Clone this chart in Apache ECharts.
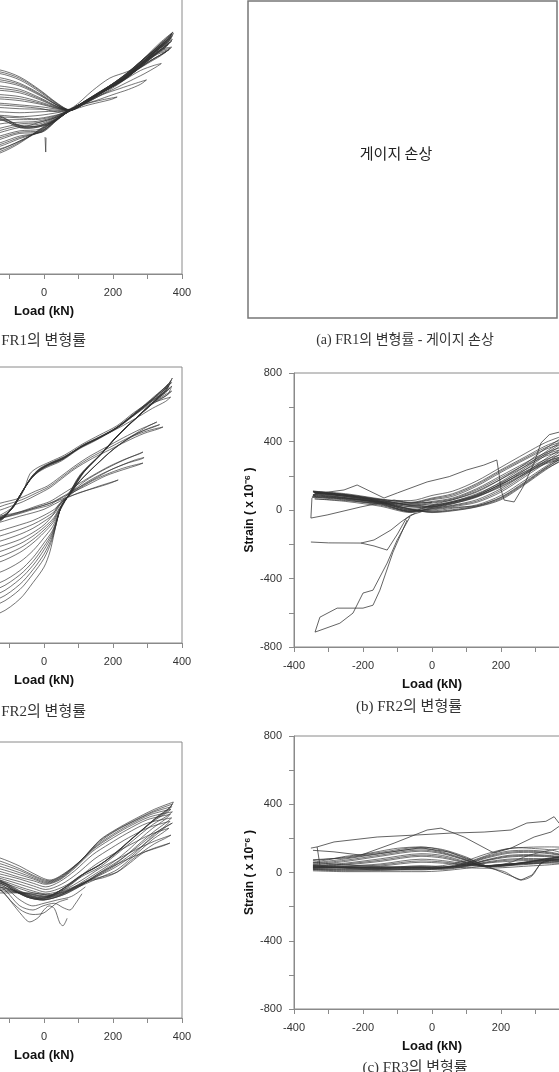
<!DOCTYPE html>
<html>
<head>
<meta charset="utf-8">
<script src="https://cdn.jsdelivr.net/npm/echarts@6/dist/echarts.min.js"></script>
<style>
html, body { margin: 0; padding: 0; background: #fff; }
#main { width: 559px; height: 1072px; }
</style>
</head>
<body>
<div id="main"></div>
<script>
// tick labels
const loadTicks = [-400, -200, 0, 200, 400];
const strainTicks = [-800, -400, 0, 400, 800];

// left column, top panel : [load kN, strain x1e-6] per cycle
const leftTopLoops = [
  [[-360,430],[-250,415],[-128,383],[-70,342],[-12,267],[38,191],[75,152],[120,205],[162,258],[229,340],[287,445],[336,540],[374,603],[362,575],[330,520],[290,450],[240,365],[190,290],[130,215],[85,160],[55,125],[-3,52],[-70,-41],[-128,-99],[-250,-170],[-360,-220]],
  [[-360,415],[-250,400],[-128,372],[-70,334],[-12,262],[38,188],[75,151],[122,203],[164,256],[230,338],[288,442],[337,535],[372,598],[361,568],[328,512],[288,446],[238,360],[188,288],[128,212],[83,158],[52,120],[-4,46],[-70,-35],[-128,-90],[-250,-160],[-360,-210]],
  [[-360,405],[-250,390],[-128,362],[-70,325],[-12,255],[38,185],[75,150],[120,200],[162,252],[229,335],[287,438],[336,530],[370,590],[360,560],[325,505],[285,440],[235,355],[185,285],[125,210],[80,155],[50,115],[-5,40],[-70,-28],[-128,-80],[-250,-150],[-360,-200]],
  [[-360,380],[-250,365],[-128,338],[-70,305],[-12,245],[38,180],[75,150],[120,198],[162,250],[229,330],[287,430],[336,522],[368,575],[355,545],[320,492],[280,428],[230,345],[180,278],[120,205],[78,152],[45,108],[-5,30],[-70,-15],[-128,-60],[-250,-130],[-360,-180]],
  [[-360,362],[-250,350],[-128,326],[-70,298],[-12,240],[38,179],[75,150],[121,199],[163,251],[230,331],[288,431],[337,521],[369,568],[357,540],[321,486],[281,423],[231,341],[181,275],[121,203],[77,151],[43,104],[-6,26],[-70,-8],[-128,-50],[-250,-120],[-360,-170]],
  [[-360,350],[-250,338],[-128,315],[-70,290],[-12,235],[38,178],[75,150],[122,198],[165,252],[232,332],[290,432],[338,520],[372,560],[360,532],[322,480],[282,418],[232,338],[182,272],[122,202],[78,152],[42,100],[-8,22],[-70,0],[-128,-40],[-250,-110],[-360,-160]],
  [[-360,320],[-250,310],[-128,290],[-70,270],[-12,222],[38,172],[75,150],[122,196],[165,250],[232,330],[290,428],[338,515],[365,545],[352,520],[318,470],[278,410],[228,332],[178,268],[120,200],[76,150],[40,95],[-10,20],[-70,15],[-128,-20],[-250,-90],[-360,-140]],
  [[-360,305],[-250,296],[-128,276],[-70,260],[-12,216],[38,170],[75,150],[121,195],[163,248],[231,328],[289,425],[336,510],[362,538],[350,512],[315,464],[275,405],[226,329],[176,265],[119,199],[75,150],[39,98],[-10,30],[-70,22],[-128,-10],[-250,-80],[-360,-130]],
  [[-360,290],[-250,282],[-128,265],[-70,250],[-12,210],[38,168],[75,150],[120,194],[162,246],[230,326],[288,422],[335,505],[360,530],[348,505],[312,458],[272,400],[225,326],[175,262],[118,198],[75,150],[38,100],[-10,40],[-70,30],[-128,0],[-250,-70],[-360,-120]],
  [[-360,262],[-250,255],[-128,240],[-70,228],[-12,198],[38,165],[75,150],[125,200],[168,252],[235,330],[290,420],[336,500],[370,515],[355,490],[315,445],[275,390],[225,318],[172,258],[116,196],[74,150],[36,105],[-15,60],[-70,50],[-128,20],[-250,-50],[-360,-100]],
  [[-360,248],[-250,241],[-128,226],[-70,216],[-12,191],[38,162],[75,150],[125,199],[166,250],[231,326],[287,415],[333,490],[366,508],[350,484],[310,438],[270,385],[221,315],[170,255],[115,195],[73,150],[35,108],[-16,68],[-70,60],[-128,32],[-250,-35],[-360,-85]],
  [[-360,235],[-250,228],[-128,215],[-70,205],[-12,185],[38,160],[75,150],[125,198],[165,248],[228,322],[285,410],[330,480],[362,500],[345,478],[305,432],[265,380],[218,312],[168,252],[114,194],[72,150],[35,110],[-18,78],[-70,70],[-128,45],[-250,-20],[-360,-70]],
  [[-360,205],[-250,200],[-128,190],[-70,180],[-12,170],[38,156],[75,150],[122,195],[160,244],[225,318],[280,400],[325,470],[355,490],[338,465],[300,420],[258,368],[212,305],[165,250],[112,192],[70,148],[32,112],[-20,85],[-70,80],[-128,70],[-250,10],[-360,-40]],
  [[-360,180],[-250,175],[-128,165],[-70,158],[-12,155],[38,150],[75,148],[120,190],[165,245],[225,315],[280,380],[320,410],[340,420],[325,400],[290,360],[250,320],[200,270],[150,225],[105,185],[68,145],[30,115],[-25,95],[-70,95],[-128,90],[-250,40],[-360,0]],
  [[-360,150],[-250,148],[-128,140],[-70,135],[-12,140],[38,145],[75,150],[120,190],[170,240],[220,275],[265,305],[297,325],[280,300],[245,270],[200,240],[150,205],[100,175],[65,140],[28,118],[-30,100],[-70,105],[-128,110],[-250,70],[-360,30]],
  [[-360,125],[-250,122],[-128,120],[-70,112],[-12,120],[38,135],[75,150],[120,185],[170,210],[212,226],[195,212],[160,195],[120,175],[80,148],[40,112],[-20,75],[-60,55],[-128,100],[-250,80],[-360,50]],
  [[-360,160],[-250,140],[-128,110],[-80,70],[-49,52],[-10,60],[17,75],[50,115],[75,150],[130,208],[175,262],[240,345],[295,445],[340,525],[372,582],[365,560],[335,508],[298,448],[250,370],[200,298],[140,222],[95,170],[60,128],[25,85],[-20,50],[-60,45],[-128,100],[-250,130],[-360,150]],
  [[-360,140],[-250,125],[-128,95],[-80,60],[-49,45],[-10,55],[17,70],[50,112],[75,148],[130,205],[178,262],[245,350],[298,450],[342,530],[375,595],[368,570],[338,515],[300,455],[252,378],[202,305],[142,228],[98,175],[62,130],[28,92],[-15,58],[-60,50],[-128,115],[-250,135],[-360,155]],
  [[-360,200],[-128,180],[-12,160],[40,140],[85,168],[140,262],[191,336],[240,372],[290,420],[340,500],[370,550],[350,520],[300,440],[250,350],[200,280],[140,210],[80,150],[40,100],[-10,30],[-70,-30],[-128,-75],[-360,-200]]
];
const leftTopSpike = [[3,-6],[5,-93],[6,-10]];

// left column, middle panel
const leftMidLoops = [
  [[-360,-720],[-250,-690],[-128,-626],[-70,-545],[-32,-450],[0,-360],[17,-272],[30,-160],[41,-58],[55,0],[67,41],[104,174],[162,290],[212,400],[260,490],[310,585],[350,660],[372,736],[360,700],[320,630],[270,545],[212,452],[160,395],[113,348],[60,280],[17,243],[-10,215],[-32,174],[-60,90],[-90,-17],[-128,-75],[-250,-160],[-360,-230]],
  [[-360,-680],[-250,-640],[-128,-570],[-70,-490],[-32,-400],[0,-310],[20,-220],[33,-130],[44,-40],[58,15],[72,60],[108,180],[165,295],[215,405],[262,495],[312,590],[352,655],[368,720],[355,690],[318,622],[268,540],[210,448],[158,390],[110,343],[58,275],[15,238],[-12,208],[-35,165],[-62,80],[-92,-20],[-128,-80],[-250,-165],[-360,-235]],
  [[-360,-620],[-250,-580],[-128,-510],[-70,-430],[-32,-350],[0,-260],[22,-180],[36,-100],[48,-20],[62,30],[78,75],[112,185],[168,300],[218,410],[265,500],[315,590],[360,700],[350,670],[315,612],[265,532],[208,445],[155,385],[108,338],[55,270],[12,232],[-15,200],[-38,155],[-65,70],[-95,-25],[-128,-85],[-250,-170],[-360,-240]],
  [[-360,-590],[-250,-550],[-128,-480],[-70,-405],[-32,-328],[0,-240],[23,-165],[37,-90],[49,-15],[63,32],[80,80],[113,188],[169,302],[219,412],[266,502],[316,592],[362,690],[351,660],[313,606],[263,528],[206,442],[153,382],[106,335],[53,266],[11,228],[-16,196],[-39,150],[-66,66],[-96,-27],[-128,-87],[-250,-172],[-360,-242]],
  [[-360,-560],[-250,-520],[-128,-450],[-70,-380],[-32,-305],[0,-220],[24,-150],[38,-80],[50,-10],[64,35],[82,85],[115,190],[170,305],[220,415],[268,505],[318,595],[365,680],[352,650],[312,600],[262,525],[205,440],[152,380],[105,332],[52,262],[10,225],[-18,192],[-40,148],[-68,62],[-98,-30],[-128,-90],[-250,-175],[-360,-245]],
  [[-360,-500],[-250,-460],[-128,-390],[-70,-330],[-32,-265],[0,-190],[25,-125],[40,-60],[52,0],[66,40],[85,95],[118,195],[172,310],[222,420],[270,510],[320,600],[370,660],[355,635],[310,588],[258,515],[200,432],[148,372],[102,325],[50,255],[8,218],[-20,185],[-42,140],[-70,55],[-100,-35],[-128,-95],[-250,-180],[-360,-250]],
  [[-360,-440],[-250,-400],[-128,-330],[-70,-275],[-32,-220],[0,-160],[27,-100],[42,-40],[55,10],[70,50],[100,130],[150,230],[200,320],[250,390],[300,430],[345,452],[330,440],[290,415],[240,370],[190,320],[140,270],[90,210],[50,150],[17,100],[-20,60],[-60,20],[-100,-10],[-128,-30],[-250,-100],[-360,-170]],
  [[-360,-410],[-250,-370],[-128,-300],[-70,-250],[-32,-200],[0,-145],[27,-88],[43,-30],[56,15],[72,55],[102,135],[152,235],[202,325],[252,395],[300,442],[335,466],[322,455],[285,428],[235,380],[185,328],[135,275],[88,215],[48,155],[14,105],[-22,70],[-65,30],[-114,0],[-128,-10],[-250,-80],[-360,-150]],
  [[-360,-380],[-250,-340],[-128,-270],[-70,-225],[-32,-180],[0,-130],[28,-75],[44,-20],[58,20],[75,60],[105,140],[155,240],[205,330],[255,400],[300,455],[327,481],[315,470],[280,440],[230,390],[180,335],[130,280],[85,220],[45,160],[10,110],[-25,80],[-70,40],[-128,10],[-250,-60],[-360,-130]],
  [[-360,-320],[-250,-280],[-128,-210],[-70,-170],[-32,-135],[0,-95],[30,-50],[46,0],[62,35],[80,75],[120,140],[170,200],[220,250],[260,285],[287,307],[275,295],[240,270],[190,225],[140,170],[90,110],[50,60],[17,20],[-20,-5],[-70,-40],[-128,-75],[-250,-140],[-360,-200]],
  [[-360,-290],[-250,-250],[-128,-180],[-70,-142],[-32,-112],[0,-78],[30,-38],[47,5],[63,38],[85,78],[130,140],[180,192],[230,235],[265,262],[290,275],[280,265],[245,245],[195,205],[145,150],[95,95],[55,50],[17,10],[-25,-15],[-75,-48],[-128,-77],[-250,-135],[-360,-195]],
  [[-360,-260],[-250,-220],[-128,-150],[-70,-115],[-32,-90],[0,-60],[30,-25],[48,10],[65,40],[90,80],[140,140],[190,185],[240,220],[287,243],[270,230],[230,205],[180,170],[130,120],[80,70],[40,30],[17,0],[-30,-25],[-80,-55],[-128,-78],[-250,-130],[-360,-190]],
  [[-360,-200],[-250,-160],[-128,-100],[-70,-65],[-32,-45],[0,-25],[30,5],[60,35],[100,70],[150,100],[190,125],[215,145],[200,135],[160,110],[110,75],[60,40],[17,10],[-30,-20],[-80,-45],[-128,-65],[-250,-110],[-360,-170]],
  [[-360,-260],[-250,-180],[-128,-60],[-90,-10],[-60,80],[-41,180],[-20,215],[17,250],[60,290],[113,355],[160,405],[212,460],[260,535],[307,600],[345,670],[370,710],[355,680],[315,615],[262,525],[210,445],[160,392],[113,342],[60,282],[17,240],[-30,170],[-60,85],[-90,-15],[-128,-70],[-250,-150],[-360,-220]],
  [[-360,-350],[-250,-310],[-128,-240],[-70,-200],[-32,-160],[0,-115],[25,-60],[40,-5],[55,30],[72,70],[108,175],[165,292],[214,402],[262,492],[312,582],[358,640],[370,690],[358,665],[318,610],[266,528],[212,446],[158,388],[110,340],[56,272],[14,236],[-14,205],[-36,160],[-64,74],[-94,-22],[-128,-82],[-250,-168],[-360,-238]],
  [[-360,-650],[-250,-610],[-128,-540],[-70,-460],[-32,-375],[0,-285],[21,-200],[35,-115],[46,-30],[60,22],[75,68],[110,182],[166,298],[216,408],[264,498],[314,588],[367,625],[352,600],[314,560],[264,500],[210,440],[156,386],[108,340],[56,268],[13,234],[-16,202],[-37,158],[-66,66],[-96,-28],[-128,-88],[-250,-172],[-360,-242]]
];

// left column, bottom panel
const leftBotLoops = [
  [[-360,240],[-250,200],[-128,128],[-70,80],[-32,39],[17,0],[60,40],[110,120],[162,232],[210,295],[258,348],[320,410],[375,452],[365,420],[330,370],[290,300],[250,230],[212,160],[170,100],[120,40],[80,-20],[40,-70],[-3,-116],[-49,-99],[-128,-17],[-250,60],[-360,120]],
  [[-360,220],[-250,180],[-128,110],[-70,65],[-32,28],[15,-5],[55,30],[105,110],[158,222],[205,285],[255,338],[318,400],[372,440],[360,410],[325,360],[285,292],[245,222],[205,150],[165,92],[115,35],[75,-25],[35,-75],[-5,-110],[-50,-92],[-128,-10],[-250,65],[-360,125]],
  [[-360,200],[-250,165],[-128,95],[-70,55],[-30,20],[12,-10],[52,22],[100,100],[155,210],[200,275],[250,330],[315,392],[370,425],[356,398],[320,350],[280,284],[240,215],[200,145],[160,85],[110,30],[70,-30],[30,-80],[-8,-105],[-52,-85],[-128,-5],[-250,70],[-360,130]],
  [[-360,180],[-250,145],[-128,80],[-70,42],[-30,12],[10,-15],[50,15],[95,90],[150,195],[198,262],[246,318],[310,380],[368,410],[352,385],[315,338],[275,272],[235,205],[195,138],[155,78],[105,25],[65,-35],[25,-85],[-10,-100],[-55,-78],[-128,0],[-250,75],[-360,135]],
  [[-360,160],[-250,125],[-128,65],[-70,30],[-30,5],[8,-20],[48,8],[92,80],[145,182],[195,250],[242,305],[305,365],[372,395],[356,370],[318,325],[278,262],[238,195],[198,130],[158,70],[108,18],[68,-42],[28,-90],[-12,-108],[-58,-88],[-128,-5],[-250,70],[-360,130]],
  [[-360,140],[-250,110],[-128,50],[-70,15],[-30,-5],[5,-25],[45,0],[90,70],[140,165],[190,232],[240,290],[300,350],[366,380],[350,350],[315,300],[280,240],[245,175],[205,110],[160,50],[120,0],[80,-50],[40,-95],[0,-115],[-49,-99],[-128,-17],[-250,60],[-360,120]],
  [[-360,120],[-250,95],[-128,35],[-70,5],[-30,-20],[5,-40],[45,-10],[90,55],[140,145],[190,210],[240,270],[300,330],[370,360],[352,330],[318,280],[282,220],[248,160],[212,100],[170,45],[133,0],[95,-45],[50,-90],[0,-112],[-45,-95],[-128,-30],[-250,50],[-360,110]],
  [[-360,110],[-250,80],[-128,20],[-70,-10],[-30,-35],[5,-55],[50,-25],[95,35],[145,120],[195,185],[245,245],[305,305],[365,340],[350,310],[320,265],[287,200],[255,140],[212,80],[175,40],[133,0],[95,-40],[55,-80],[5,-105],[-45,-90],[-128,-40],[-250,40],[-360,100]],
  [[-360,100],[-250,70],[-128,10],[-70,-25],[-30,-50],[5,-70],[55,-40],[100,15],[150,90],[200,150],[255,210],[310,265],[362,300],[345,275],[315,235],[287,185],[255,130],[212,60],[175,25],[140,-5],[100,-40],[60,-75],[10,-100],[-40,-85],[-128,-50],[-250,30],[-360,90]],
  [[-360,90],[-250,60],[-128,0],[-70,-40],[-30,-65],[5,-80],[60,-55],[110,0],[160,65],[212,120],[265,175],[320,225],[368,260],[350,240],[320,210],[287,165],[250,110],[212,46],[175,15],[133,-5],[95,-40],[60,-70],[15,-95],[-40,-80],[-128,-60],[-250,20],[-360,80]],
  [[-360,80],[-250,50],[-128,-10],[-70,-50],[-30,-75],[10,-85],[65,-65],[115,-15],[165,45],[215,95],[270,145],[320,185],[365,214],[348,200],[318,180],[287,157],[250,100],[212,46],[170,20],[133,0],[95,-35],[60,-65],[20,-90],[-35,-75],[-128,-75],[-250,10],[-360,70]],
  [[-360,50],[-250,20],[-128,-17],[-80,-70],[-49,-99],[-3,-116],[35,-100],[67,-77],[110,-30],[160,40],[215,110],[270,190],[320,270],[372,330],[355,310],[320,255],[280,190],[240,130],[200,75],[160,30],[120,-10],[80,-45],[40,-75],[0,-95],[-40,-80],[-128,-40],[-250,30],[-360,60]]
];
const leftBotDips = [
  [[-360,-20],[-250,-40],[-128,-60],[-90,-140],[-70,-190],[-41,-243],[-15,-215],[-3,-180],[15,-150],[30,-165],[46,-250],[55,-265],[62,-245],[67,-222]],
  [[-360,0],[-250,-20],[-128,-40],[-70,-150],[-32,-174],[-3,-150],[30,-135],[55,-160],[75,-174],[90,-140],[110,-80]],
  [[-360,10],[-250,-5],[-128,-25],[-70,-115],[-32,-150],[0,-135],[40,-115],[80,-95],[120,-40]],
  [[-128,-50],[-70,-170],[-32,-200],[-3,-193],[20,-160],[40,-130],[70,-110]]
];

// right column, (b) FR2
const fr2Loops = [
  [[-345,105],[-250,80],[-150,45],[-61,5],[0,-15],[60,-5],[130,18],[200,60],[270,150],[330,235],[390,310],[330,275],[270,215],[200,140],[130,80],[60,40],[0,20],[-61,25],[-150,60],[-250,90],[-345,105]],
  [[-344,108],[-250,88],[-150,52],[-61,4],[0,-12],[60,-2],[130,20],[200,66],[270,155],[330,240],[390,300],[330,270],[270,210],[200,135],[130,78],[60,36],[0,15],[-61,18],[-150,52],[-250,85],[-344,108]],
  [[-342,102],[-250,84],[-150,47],[-61,3],[0,-10],[60,2],[130,24],[200,72],[270,160],[330,245],[390,318],[330,285],[270,225],[200,150],[130,85],[60,45],[0,22],[-61,28],[-150,58],[-250,86],[-342,102]],
  [[-340,95],[-250,72],[-150,40],[-61,0],[0,-5],[60,10],[130,30],[200,85],[270,175],[330,255],[390,330],[330,295],[270,235],[200,160],[130,95],[60,50],[0,30],[-61,30],[-150,55],[-250,80],[-340,95]],
  [[-345,85],[-250,65],[-150,35],[-61,-5],[0,5],[60,20],[130,45],[200,105],[270,195],[330,275],[390,350],[330,315],[270,255],[200,180],[130,110],[60,60],[0,40],[-61,20],[-150,45],[-250,70],[-345,85]],
  [[-346,80],[-250,62],[-150,32],[-61,-8],[0,8],[60,25],[130,52],[200,115],[270,205],[330,288],[390,362],[330,325],[270,265],[200,190],[130,118],[60,65],[0,45],[-61,28],[-150,48],[-250,68],[-346,80]],
  [[-348,75],[-250,58],[-150,28],[-61,-10],[0,10],[60,28],[130,60],[200,125],[270,215],[330,300],[390,375],[330,335],[270,275],[200,200],[130,125],[60,70],[0,50],[-61,35],[-150,50],[-250,65],[-348,75]],
  [[-340,65],[-250,50],[-150,22],[-61,-15],[0,15],[60,38],[130,75],[200,145],[270,235],[330,320],[390,395],[330,355],[270,295],[200,220],[130,140],[60,80],[0,60],[-61,40],[-150,40],[-250,55],[-340,65]],
  [[-338,98],[-250,80],[-150,46],[-61,-2],[0,18],[60,45],[130,82],[200,155],[270,245],[330,330],[390,408],[330,365],[270,302],[200,228],[130,148],[60,88],[0,65],[-61,42],[-150,62],[-250,90],[-338,98]],
  [[-345,110],[-250,90],[-150,50],[-61,0],[0,25],[60,50],[130,90],[200,165],[270,255],[330,340],[390,420],[330,375],[270,310],[200,235],[130,155],[60,95],[0,70],[-61,45],[-150,65],[-250,95],[-345,110]],
  [[-340,100],[-250,78],[-150,42],[-61,-8],[0,30],[60,60],[130,105],[200,180],[270,270],[330,360],[390,440],[330,395],[270,330],[200,250],[130,170],[60,110],[0,85],[-61,55],[-150,60],[-250,85],[-340,100]],
  [[-345,90],[-250,70],[-150,38],[-61,-12],[0,0],[60,15],[130,25],[200,75],[270,165],[330,248],[390,320],[330,280],[270,222],[200,150],[130,88],[60,45],[0,25],[-61,10],[-150,40],[-250,72],[-345,90]]
];
const fr2Outliers = [
  [[-345,88],[-300,105],[-255,117],[-217,146],[-180,110],[-139,70],[-100,100],[-14,164],[50,195],[101,234],[150,262],[188,292],[195,200],[200,120],[209,58],[238,47],[264,135],[296,275],[316,392],[340,440],[371,456],[400,470]],
  [[-348,70],[-351,-47],[-304,-29],[-206,18],[-110,58],[-61,40],[0,45]],
  [[-351,-187],[-300,-192],[-206,-193],[-168,-175],[-119,-117],[-90,-70],[-61,-29],[-30,-10]],
  [[-206,-193],[-168,-210],[-130,-234],[-100,-140],[-75,-50],[-50,-20]],
  [[-72,-58],[-113,-246],[-151,-468],[-171,-556],[-200,-573],[-275,-573],[-325,-626],[-339,-713],[-267,-661],[-229,-602],[-200,-485],[-171,-468],[-130,-310],[-101,-175],[-64,-41]]
];

// right column, (c) FR3
const fr3Loops = [
  [[-345,60],[-300,75],[-250,95],[-206,105],[-150,125],[-100,142],[-32,150],[30,130],[100,80],[159,30],[210,5],[258,-44],[290,-20],[316,55],[350,85],[390,100],[350,130],[300,140],[250,145],[200,130],[159,100],[100,60],[30,30],[-32,20],[-100,20],[-206,30],[-300,40],[-345,45]],
  [[-345,55],[-250,80],[-150,110],[-32,140],[30,120],[100,75],[159,32],[220,40],[280,60],[340,85],[390,95],[340,120],[280,130],[220,125],[159,95],[100,55],[30,25],[-32,15],[-150,15],[-250,25],[-345,40]],
  [[-345,50],[-250,72],[-150,102],[-32,132],[30,115],[100,72],[159,34],[220,42],[280,62],[340,82],[390,92],[340,115],[280,124],[220,118],[159,90],[100,52],[30,26],[-32,20],[-150,20],[-250,28],[-345,38]],
  [[-345,45],[-250,65],[-150,95],[-32,125],[30,110],[100,70],[159,35],[220,45],[280,65],[340,80],[390,90],[340,110],[280,118],[220,112],[159,85],[100,50],[30,28],[-32,25],[-150,25],[-250,30],[-345,35]],
  [[-345,40],[-250,55],[-150,80],[-32,110],[30,100],[100,62],[159,38],[220,48],[280,62],[340,75],[390,85],[340,100],[280,105],[220,100],[159,75],[100,45],[30,30],[-32,30],[-150,30],[-250,32],[-345,30]],
  [[-345,38],[-250,50],[-150,72],[-32,102],[30,92],[100,58],[159,39],[220,49],[280,60],[340,72],[390,82],[340,96],[280,100],[220,95],[159,72],[100,44],[30,30],[-32,32],[-150,30],[-250,30],[-345,28]],
  [[-345,35],[-250,45],[-150,65],[-32,95],[30,85],[100,55],[159,40],[220,50],[280,58],[340,70],[390,80],[340,92],[280,95],[220,90],[159,70],[100,42],[30,30],[-32,35],[-150,30],[-250,28],[-345,25]],
  [[-345,30],[-250,38],[-150,50],[-32,78],[30,70],[100,50],[159,40],[220,48],[280,55],[340,65],[390,72],[340,80],[280,82],[220,78],[159,62],[100,40],[30,25],[-32,30],[-150,22],[-250,18],[-345,20]],
  [[-345,28],[-250,34],[-150,44],[-32,68],[30,62],[100,46],[159,38],[220,44],[280,52],[340,62],[390,68],[340,75],[280,76],[220,72],[159,58],[100,38],[30,22],[-32,25],[-150,18],[-250,14],[-345,18]],
  [[-345,25],[-250,30],[-150,38],[-32,60],[30,55],[100,42],[159,35],[220,40],[280,48],[340,58],[390,65],[340,70],[280,70],[220,65],[159,55],[100,35],[30,18],[-32,20],[-150,12],[-250,10],[-345,15]],
  [[-345,20],[-250,22],[-150,25],[-32,40],[30,35],[100,28],[159,25],[220,30],[280,38],[340,45],[390,55],[340,55],[280,52],[220,48],[159,40],[100,25],[30,10],[-32,5],[-150,5],[-250,5],[-345,10]],
  [[-345,70],[-250,90],[-150,118],[-32,148],[30,135],[100,90],[159,40],[220,55],[280,100],[340,130],[390,145],[340,150],[280,148],[220,140],[159,110],[100,70],[30,40],[-32,30],[-150,35],[-250,45],[-345,60]]
];
const fr3Outliers = [
  [[-345,75],[-250,85],[-150,112],[-32,145],[50,120],[120,70],[180,20],[258,-44],[290,-15],[316,55],[340,70],[390,85]],
  [[-351,143],[-333,150],[-284,179],[-159,208],[-43,220],[55,231],[151,237],[229,249],[275,290],[330,300],[354,327],[368,290],[390,300]],
  [[-333,150],[-325,44]],
  [[-345,130],[-284,121],[-206,102],[-110,172],[-14,249],[26,260],[93,208],[180,114],[229,143],[296,208],[345,237],[368,270],[390,300]]
];

// captions
const captionLeftA = '(a) FR1의 변형률';
const captionLeftB = '(b) FR2의 변형률';
const captionRightA = '(a) FR1의 변형률 - 게이지 손상';
const captionRightB = '(b) FR2의 변형률';
const captionRightC = '(c) FR3의 변형률';
const gaugeNote = '게이지 손상';

const sansFont = '"Liberation Sans", Arial, "Noto Sans CJK KR", sans-serif';
const serifFont = '"Liberation Serif", "DejaVu Serif", "Noto Sans CJK KR", serif';
const axisGray = '#8a8a8a';

// plot boxes (pixels); left column is clipped by the page edge
const grids = [
  {left: -94, top: -2, width: 276, height: 276},
  {left: -94, top: 367, width: 276, height: 276},
  {left: -94, top: 742, width: 276, height: 276},
  {left: 294, top: 373, width: 276, height: 274},
  {left: 294, top: 736, width: 276, height: 273}
];

function makeX(gi) {
  return {
    type: 'value', gridIndex: gi, min: -400, max: 400, interval: 100,
    name: 'Load (kN)', nameLocation: 'middle', nameGap: 31,
    nameTextStyle: {fontFamily: sansFont, fontWeight: 'bold', fontSize: 13, color: '#111'},
    axisLine: {onZero: false, lineStyle: {color: axisGray, width: 1}},
    axisTick: {length: 5, lineStyle: {color: axisGray}},
    axisLabel: {
      margin: 13, fontSize: 11, color: '#333', fontFamily: sansFont,
      formatter: v => loadTicks.indexOf(v) >= 0 ? String(v) : ''
    },
    splitLine: {show: false}
  };
}

function makeY(gi) {
  return {
    type: 'value', gridIndex: gi, min: -800, max: 800, interval: 200,
    name: 'Strain ( x 10⁻⁶ )', nameLocation: 'middle', nameGap: 37,
    nameTextStyle: {fontFamily: sansFont, fontWeight: 'bold', fontSize: 12, color: '#111'},
    axisLine: {onZero: false, lineStyle: {color: axisGray, width: 1}},
    axisTick: {length: 5, lineStyle: {color: axisGray}},
    axisLabel: {
      margin: 12, fontSize: 11, color: '#333', fontFamily: sansFont,
      formatter: v => strainTicks.indexOf(v) >= 0 ? String(v) : ''
    },
    splitLine: {show: false}
  };
}

function loopSeries(loops, gi, smooth, width) {
  return loops.map(pts => ({
    type: 'line', xAxisIndex: gi, yAxisIndex: gi, data: pts,
    symbol: 'none', smooth: smooth, silent: true, clip: true,
    lineStyle: {width: width || 0.8, color: '#333', opacity: 0.85}
  }));
}

const series = [].concat(
  loopSeries(leftTopLoops, 0, 0.3),
  loopSeries([leftTopSpike], 0, false),
  loopSeries(leftMidLoops, 1, 0.3),
  loopSeries(leftBotLoops, 2, 0.3),
  loopSeries(leftBotDips, 2, 0.3),
  loopSeries(fr2Loops, 3, 0.3),
  loopSeries(fr2Outliers, 3, false, 0.9),
  loopSeries(fr3Loops, 4, 0.3),
  loopSeries(fr3Outliers, 4, false, 0.9)
);

function caption(text, x, y, align, size) {
  return {
    type: 'text', x: x, y: y, silent: true,
    style: {text: text, font: size + 'px ' + serifFont, fill: '#333', align: align, verticalAlign: 'middle'}
  };
}

const chart = echarts.init(document.getElementById('main'), null, {renderer: 'canvas'});
chart.setOption({
  animation: false,
  backgroundColor: '#fff',
  grid: grids.map(g => Object.assign({
    show: true, borderColor: axisGray, borderWidth: 1, backgroundColor: 'transparent',
    containLabel: false, outerBoundsMode: 'none'
  }, g)),
  xAxis: grids.map((g, i) => makeX(i)),
  yAxis: grids.map((g, i) => makeY(i)),
  series: series,
  graphic: [
    {
      type: 'rect', silent: true,
      shape: {x: 248, y: 1, width: 309, height: 317},
      style: {fill: 'none', stroke: '#777', lineWidth: 1.5}
    },
    {
      type: 'text', x: 396, y: 153, silent: true,
      style: {text: gaugeNote, font: '15px "Noto Sans CJK KR", sans-serif', fill: '#222', align: 'center', verticalAlign: 'middle'}
    },
    caption(captionLeftA, 86, 341, 'right', 15),
    caption(captionLeftB, 86, 712, 'right', 15),
    caption(captionRightA, 405, 340, 'center', 14),
    caption(captionRightB, 409, 707, 'center', 15),
    caption(captionRightC, 415, 1068, 'center', 15)
  ]
});
</script>
</body>
</html>
